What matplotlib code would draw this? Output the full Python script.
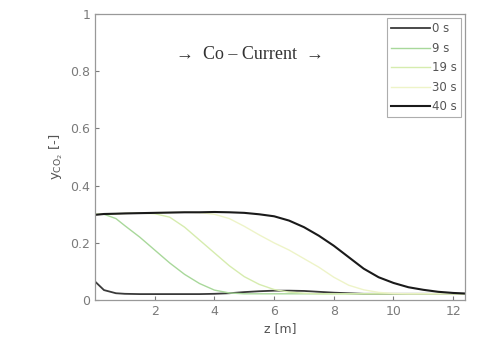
import numpy as np
import matplotlib.pyplot as plt

# 数据：沿床层高度 z 的 CO2 摩尔分数
z = [0, 0.3, 0.7, 1, 1.5, 2, 2.5, 3, 3.5, 4, 4.5, 5, 5.5, 6, 6.5, 7,
     7.5, 8, 8.5, 9, 9.5, 10, 10.5, 11, 11.5, 12, 12.4]

y_0s = [0.065, 0.035, 0.024, 0.022, 0.021, 0.021, 0.021, 0.021, 0.021, 0.022,
        0.024, 0.028, 0.031, 0.033, 0.033, 0.032, 0.029, 0.026, 0.024, 0.022,
        0.022, 0.022, 0.022, 0.022, 0.022, 0.022, 0.022]
y_9s = [0.300, 0.300, 0.285, 0.260, 0.220, 0.175, 0.130, 0.090, 0.058, 0.035,
        0.025, 0.022, 0.022, 0.022, 0.022, 0.022, 0.022, 0.022, 0.022, 0.022,
        0.022, 0.022, 0.022, 0.022, 0.022, 0.022, 0.022]
y_19s = [0.300, 0.301, 0.302, 0.303, 0.304, 0.302, 0.290, 0.255, 0.210, 0.165,
         0.120, 0.082, 0.055, 0.037, 0.028, 0.024, 0.022, 0.022, 0.022, 0.022,
         0.022, 0.022, 0.022, 0.022, 0.022, 0.022, 0.022]
y_30s = [0.299, 0.301, 0.302, 0.303, 0.304, 0.305, 0.306, 0.307, 0.306, 0.300,
         0.285, 0.258, 0.228, 0.200, 0.175, 0.145, 0.115, 0.080, 0.052, 0.036,
         0.027, 0.023, 0.022, 0.022, 0.022, 0.022, 0.022]
y_40s = [0.298, 0.301, 0.302, 0.303, 0.304, 0.305, 0.306, 0.307, 0.307, 0.308,
         0.307, 0.305, 0.300, 0.293, 0.278, 0.255, 0.225, 0.190, 0.150, 0.110,
         0.080, 0.060, 0.045, 0.036, 0.029, 0.025, 0.023]

labels = ['0 s', '9 s', '19 s', '30 s', '40 s']
colors = ['#3a3a3a', '#a8d89a', '#d6ecae', '#eef4c8', '#1a1a1a']
widths = [1.3, 1.0, 1.0, 1.0, 1.5]

fig, ax = plt.subplots(figsize=(4.8, 3.51), dpi=100)
fig.subplots_adjust(left=0.198, right=0.969, bottom=0.145, top=0.96)

for ys, lab, c, w in zip([y_0s, y_9s, y_19s, y_30s, y_40s], labels, colors, widths):
    ax.plot(z, ys, color=c, linewidth=w, label=lab)

ax.set_xlim(0, 12.4)
ax.set_ylim(0, 1)
ax.set_xticks([2, 4, 6, 8, 10, 12])
ax.set_yticks([0, 0.2, 0.4, 0.6, 0.8, 1])
ax.set_yticklabels(['0', '0.2', '0.4', '0.6', '0.8', '1'])

grey = '#7a7a7a'
for s in ax.spines.values():
    s.set_color('#999999')
    s.set_linewidth(0.9)
ax.tick_params(direction='in', length=3, colors=grey, labelsize=9,
               top=False, right=False)

ax.set_xlabel('z [m]', color='#555555', fontsize=9, labelpad=3)
ax.set_ylabel(r'y$_{\mathregular{CO_2}}$ [-]', color='#555555', fontsize=9.5, labelpad=4)

ax.text(5.2, 0.86, '→  Co – Current  →', family='Liberation Serif',
        fontsize=13, color='#333333', ha='center', va='center')

leg = ax.legend(loc='upper right', fontsize=8.5, frameon=True, fancybox=False,
                handlelength=3.3, handletextpad=0.2, borderpad=0.35,
                labelspacing=0.55, borderaxespad=0.35)
leg.get_frame().set_edgecolor('#999999')
leg.get_frame().set_linewidth(0.8)
for t in leg.get_texts():
    t.set_color('#555555')

plt.savefig('out.png', dpi=100)
